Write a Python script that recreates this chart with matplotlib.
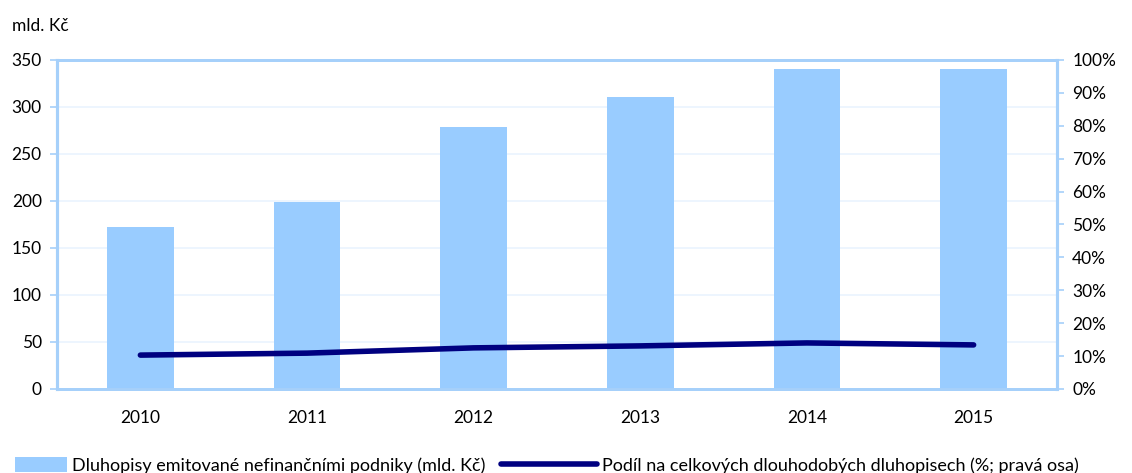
import matplotlib.pyplot as plt
import numpy as np

plt.rcParams['font.family'] = ['Lato', 'DejaVu Sans']

# Data
years = ['2010', '2011', '2012', '2013', '2014', '2015']
bonds = [172, 199, 279, 311, 340, 340]            # mld. Kč
share = [10.3, 10.9, 12.5, 13.1, 14.0, 13.4]      # % of long-term bonds

bar_color = '#99CCFF'
line_color = '#000080'
axis_color = '#A6D0FA'
grid_color = '#EAF4FE'

fig = plt.figure(figsize=(11.32, 4.73), dpi=100)
ax = fig.add_axes([0.0504, 0.1776, 0.8833, 0.6956])
x = np.arange(len(years))

bars = ax.bar(x, bonds, width=0.4, color=bar_color, zorder=2,
              label='Dluhopisy emitované nefinančními podniky (mld. Kč)')
ax.set_xlim(-0.5, len(years) - 0.5)
ax.set_ylim(0, 350)
ax.set_yticks(range(0, 351, 50))
ax.yaxis.grid(True, color=grid_color, linewidth=1.2, zorder=0)
ax.set_xticks(x)
ax.set_xticklabels(years)
ax.tick_params(axis='x', length=0, pad=15, labelsize=12.5)
ax.tick_params(axis='y', length=5, width=1.2, color=axis_color, labelsize=12.5, pad=6)

ax2 = ax.twinx()
line, = ax2.plot(x, share, color=line_color, linewidth=4, solid_capstyle='round',
                 label='Podíl na celkových dlouhodobých dluhopisech (%; pravá osa)', zorder=3)
ax2.set_ylim(0, 100)
ax2.set_yticks(range(0, 101, 10))
ax2.set_yticklabels([f'{v}%' for v in range(0, 101, 10)])
ax2.tick_params(axis='y', length=5, width=1.2, color=axis_color, labelsize=12.5, pad=6)

for a in (ax, ax2):
    for side in ('left', 'right'):
        a.spines[side].set_color(axis_color)
        a.spines[side].set_linewidth(2.2)
    for side in ('top', 'bottom'):
        a.spines[side].set_color(axis_color)
        a.spines[side].set_linewidth(2)

fig.text(0.011, 0.945, 'mld. Kč', fontsize=12.5, ha='left', va='center')

# two legend entries with different key lengths
leg_kw = dict(loc='center left', frameon=False, fontsize=13, handletextpad=0.25,
              borderpad=0, borderaxespad=0, handleheight=0.9)
fig.legend([bars], [bars.get_label()], bbox_to_anchor=(0.013, 0.016),
           handlelength=2.9, **leg_kw)
fig.legend([line], [line.get_label()], bbox_to_anchor=(0.443, 0.016),
           handlelength=5.3, **leg_kw)

fig.savefig('out.png', dpi=100)
